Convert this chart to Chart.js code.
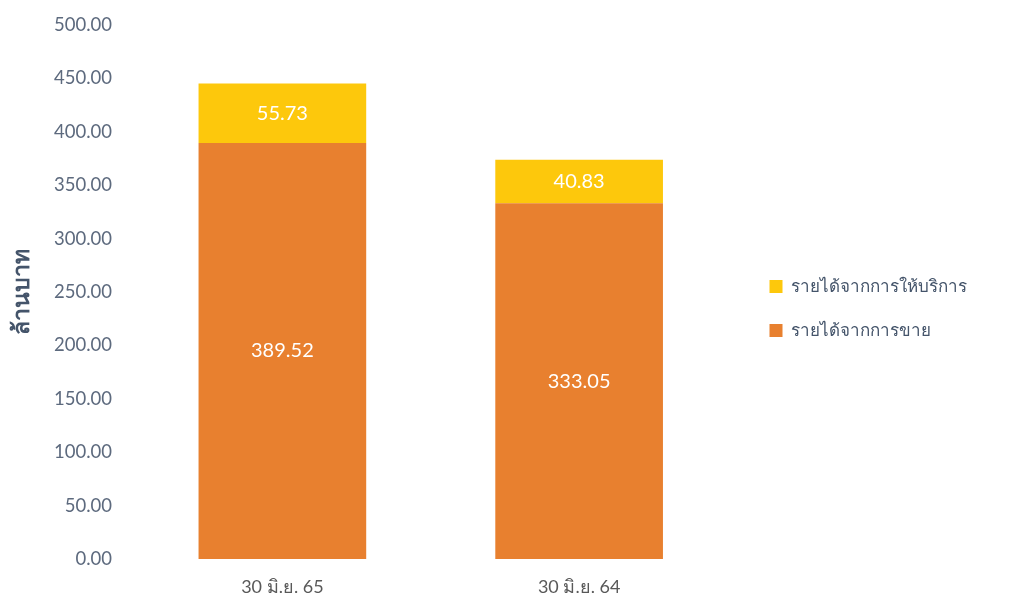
<!DOCTYPE html>
<html>
<head>
<meta charset="utf-8">
<script src="https://cdn.jsdelivr.net/npm/chart.js@4"></script>
<style>
  html, body { margin: 0; padding: 0; background: #fff; }
  #wrap { width: 1015px; height: 603px; }
</style>
</head>
<body>
<div id="wrap"><canvas id="grafico"></canvas></div>
<script>
var categorias = ["30 มิ.ย. 65", "30 มิ.ย. 64"];
var ventas = [389.52, 333.05];
var servicios = [55.73, 40.83];
var nombresSeries = ["รายได้จากการขาย", "รายได้จากการให้บริการ"];
var tituloY = "ล้านบาท";

var fuente = "Lato, 'Noto Sans', sans-serif";

// etiquetas blancas dentro de cada barra
var etiquetas = {
    id: "etiquetas",
    afterDatasetsDraw: function (chart) {
        var ctx = chart.ctx;
        ctx.save();
        ctx.fillStyle = "#ffffff";
        ctx.font = "20px " + fuente;
        ctx.textAlign = "center";
        ctx.textBaseline = "middle";
        chart.data.datasets.forEach(function (ds, i) {
            chart.getDatasetMeta(i).data.forEach(function (bar, j) {
                var y = (bar.y + bar.base) / 2;
                ctx.fillText(ds.data[j].toFixed(2), bar.x, y);
            });
        });
        ctx.restore();
    }
};

// separa un poco la leyenda del area del grafico
var moverLeyenda = {
    id: "moverLeyenda",
    afterInit: function (chart) {
        var lg = chart.legend;
        if (!lg) return;
        var fit = lg.fit;
        lg.fit = function () {
            fit.call(this);
            this.width += 13;
        };
        var draw = lg.draw;
        lg.draw = function () {
            this.ctx.save();
            this.ctx.translate(15, 5);
            draw.call(this);
            this.ctx.restore();
        };
    }
};

var ctx = document.getElementById("grafico").getContext("2d");
var myChart = new Chart(ctx, {
    type: "bar",
    data: {
        labels: categorias,
        datasets: [
            {
                label: nombresSeries[0],
                data: ventas,
                backgroundColor: "#E8802F",
                barPercentage: 1,
                categoryPercentage: 0.565
            },
            {
                label: nombresSeries[1],
                data: servicios,
                backgroundColor: "#FDC80C",
                barPercentage: 1,
                categoryPercentage: 0.565
            }
        ]
    },
    options: {
        responsive: true,
        maintainAspectRatio: false,
        animation: false,
        layout: { padding: { top: 4, right: 40, bottom: 0, left: 4 } },
        scales: {
            x: {
                stacked: true,
                grid: { display: false },
                border: { display: false },
                ticks: { color: "#595959", font: { size: 18, family: fuente }, padding: 9 },
                afterFit: function (scale) { scale.height = 44; }
            },
            y: {
                stacked: true,
                min: 0,
                max: 500,
                grid: { display: false },
                border: { display: false },
                ticks: {
                    stepSize: 50,
                    color: "#5d6a7e",
                    font: { size: 18.5, family: fuente },
                    padding: 14,
                    callback: function (v) { return v.toFixed(2); }
                },
                title: {
                    display: true,
                    text: tituloY,
                    color: "#44546A",
                    font: { size: 23, weight: "bold", family: fuente }
                },
                afterFit: function (scale) { scale.width = 130; }
            }
        },
        plugins: {
            legend: {
                position: "right",
                reverse: true,
                labels: {
                    boxWidth: 13,
                    boxHeight: 13,
                    padding: 27,
                    color: "#44546A",
                    font: { size: 17, family: fuente }
                }
            },
            tooltip: { enabled: false }
        }
    },
    plugins: [etiquetas, moverLeyenda]
});
</script>
</body>
</html>
